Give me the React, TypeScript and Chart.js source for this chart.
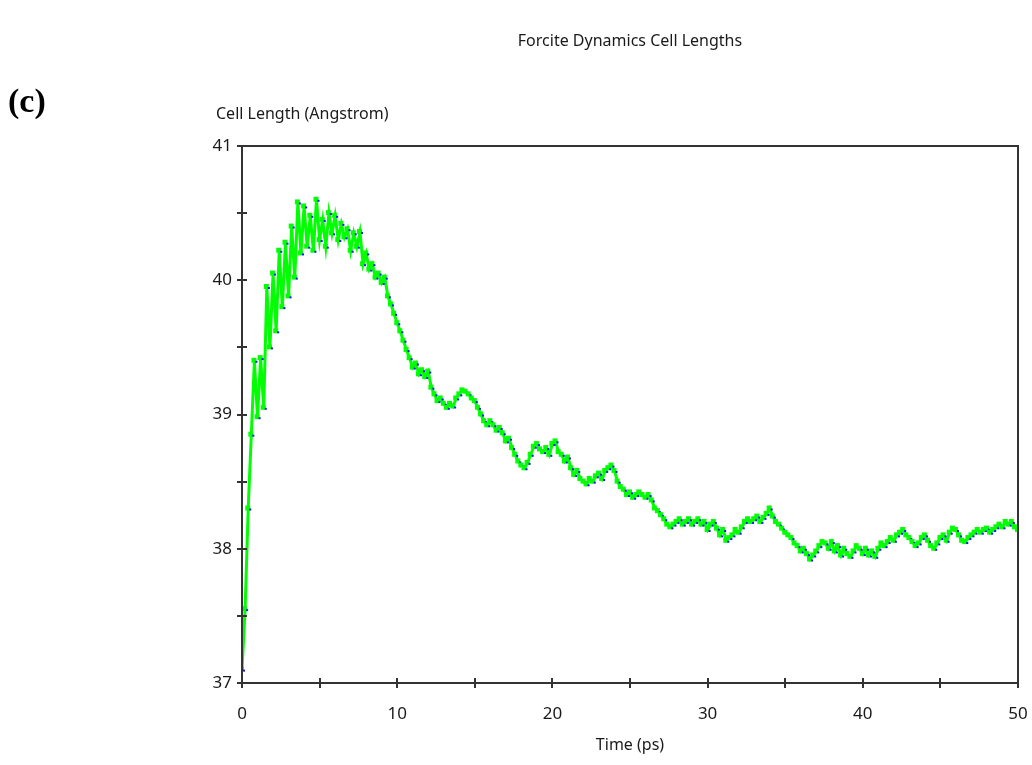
import React, { useEffect, useRef } from "react";
import { Chart, registerables } from "chart.js";

Chart.register(...registerables);

const chartTitle = "Forcite Dynamics Cell Lengths";
const panelLabel = "(c)";
const yAxisTitle = "Cell Length (Angstrom)";
const xAxisTitle = "Time (ps)";

const timeStep = 0.2; // ps between samples
const xMin = 0;
const xMax = 50;
const xTickStep = 5;
const xLabelStep = 10;
const yMin = 37;
const yMax = 41;
const yTickStep = 0.5;
const yLabelStep = 1;

// Cell length (Angstrom), one value every 0.2 ps from 0 to 50 ps
const cellLength = [
  37.10, 37.55, 38.30, 38.85, 39.40, 38.98, 39.42, 39.05, 39.95, 39.50,
  40.05, 39.62, 40.22, 39.80, 40.28, 39.88, 40.40, 40.02, 40.58, 40.20,
  40.55, 40.25, 40.48, 40.22, 40.60, 40.30, 40.45, 40.25, 40.50, 40.35,
  40.48, 40.30, 40.42, 40.32, 40.38, 40.22, 40.35, 40.25, 40.36, 40.12,
  40.20, 40.08, 40.12, 40.02, 40.05, 39.98, 40.02, 39.88, 39.82, 39.75,
  39.68, 39.62, 39.55, 39.48, 39.42, 39.35, 39.38, 39.30, 39.33, 39.28,
  39.32, 39.20, 39.15, 39.10, 39.12, 39.08, 39.05, 39.08, 39.06, 39.12,
  39.15, 39.18, 39.17, 39.15, 39.12, 39.10, 39.05, 39.00, 38.95, 38.92,
  38.95, 38.92, 38.88, 38.90, 38.86, 38.80, 38.82, 38.75, 38.70, 38.65,
  38.62, 38.60, 38.64, 38.70, 38.76, 38.78, 38.74, 38.72, 38.75, 38.70,
  38.78, 38.80, 38.72, 38.70, 38.65, 38.68, 38.60, 38.55, 38.58, 38.52,
  38.50, 38.48, 38.52, 38.50, 38.54, 38.56, 38.52, 38.58, 38.60, 38.62,
  38.58, 38.50, 38.46, 38.44, 38.40, 38.42, 38.38, 38.40, 38.42, 38.40,
  38.38, 38.40, 38.36, 38.30, 38.28, 38.25, 38.22, 38.18, 38.16, 38.18,
  38.20, 38.22, 38.18, 38.20, 38.22, 38.18, 38.20, 38.22, 38.18, 38.20,
  38.14, 38.18, 38.20, 38.15, 38.10, 38.14, 38.06, 38.08, 38.10, 38.14,
  38.12, 38.16, 38.20, 38.22, 38.20, 38.22, 38.24, 38.20, 38.23, 38.26,
  38.30, 38.24, 38.20, 38.18, 38.15, 38.12, 38.10, 38.08, 38.04, 38.02,
  37.98, 38.00, 37.96, 37.92, 37.95, 37.98, 38.02, 38.05, 38.04, 38.00,
  38.05, 37.98, 38.02, 37.95, 38.00, 37.96, 37.94, 37.98, 38.02, 38.00,
  37.96, 38.00, 37.95, 37.98, 37.94, 38.00, 38.04, 38.02, 38.05, 38.08,
  38.06, 38.10, 38.12, 38.14, 38.10, 38.08, 38.05, 38.02, 38.04, 38.08,
  38.10, 38.06, 38.02, 38.00, 38.04, 38.08, 38.10, 38.06, 38.12, 38.15,
  38.14, 38.10, 38.06, 38.05, 38.08, 38.10, 38.12, 38.14, 38.12, 38.14,
  38.15, 38.12, 38.14, 38.16, 38.18, 38.16, 38.20, 38.18, 38.20, 38.16,
  38.14,
];

const FONT = "'Noto Sans', sans-serif";
const TEXT_COLOR = "#1a1a1a";
const AXIS_COLOR = "#333333";

function makeMarker(): HTMLCanvasElement {
  const c = document.createElement("canvas");
  c.width = 8;
  c.height = 8;
  const g = c.getContext("2d")!;
  g.fillStyle = "#00ff00";
  g.fillRect(1, 1, 5, 5);
  g.fillStyle = "#1414ff";
  g.fillRect(5, 4, 2, 2);
  return c;
}

const framePlugin = {
  id: "frameTicks",
  afterDatasetsDraw(chart: any) {
    const { ctx, chartArea, scales } = chart;
    const { left, right, top, bottom } = chartArea;
    ctx.save();
    ctx.strokeStyle = AXIS_COLOR;
    ctx.lineWidth = 2;
    ctx.beginPath();
    ctx.rect(left, top, right - left, bottom - top);
    ctx.stroke();
    ctx.beginPath();
    for (let v = xMin; v <= xMax + 1e-9; v += xTickStep) {
      const x = Math.round(scales.x.getPixelForValue(v));
      ctx.moveTo(x, bottom - 5);
      ctx.lineTo(x, bottom + 5);
    }
    for (let v = yMin; v <= yMax + 1e-9; v += yTickStep) {
      const y = Math.round(scales.y.getPixelForValue(v));
      ctx.moveTo(left - 5, y);
      ctx.lineTo(left + 5, y);
    }
    ctx.stroke();
    ctx.restore();
  },
};

export default function App() {
  const ref = useRef<HTMLCanvasElement | null>(null);

  useEffect(() => {
    if (!ref.current) return;
    const points = cellLength.map((v, i) => ({ x: +(i * timeStep).toFixed(2), y: v }));
    const marker = makeMarker();
    const chart = new Chart(ref.current, {
      type: "line",
      data: {
        datasets: [
          {
            label: yAxisTitle,
            data: points,
            borderColor: "#00ff00",
            borderWidth: 3,
            pointStyle: marker as any,
            pointRadius: 4,
            pointBackgroundColor: "#1414ff",
            pointBorderWidth: 0,
            tension: 0,
            fill: false,
          },
        ],
      },
      options: {
        responsive: false,
        animation: false,
        events: [],
        layout: { padding: { left: 0, right: 14, top: 146, bottom: 0 } },
        plugins: {
          legend: { display: false },
          tooltip: { enabled: false },
          title: { display: false },
        },
        scales: {
          x: {
            type: "linear",
            min: xMin,
            max: xMax,
            grid: { display: false, drawTicks: true, tickLength: 21 },
            border: { display: false },
            ticks: {
              stepSize: xTickStep,
              autoSkip: false,
              maxRotation: 0,
              color: TEXT_COLOR,
              padding: 0,
              font: { family: FONT, size: 17 },
              callback: (v: any) => (Number(v) % xLabelStep === 0 ? String(v) : ""),
            },
            title: {
              display: true,
              text: xAxisTitle,
              color: TEXT_COLOR,
              font: { family: FONT, size: 16 },
              padding: { top: 0, bottom: 10 },
            },
            afterFit: (s: any) => {
              s.height = 82;
            },
          },
          y: {
            min: yMin,
            max: yMax,
            grid: { display: false, drawTicks: false },
            border: { display: false },
            ticks: {
              stepSize: yTickStep,
              autoSkip: false,
              color: TEXT_COLOR,
              padding: 10,
              font: { family: FONT, size: 17 },
              callback: (v: any) => (Number(v) % yLabelStep === 0 ? String(v) : ""),
            },
            afterFit: (s: any) => {
              s.width = 242;
            },
          },
        },
      },
      plugins: [framePlugin],
    });
    return () => chart.destroy();
  }, []);

  return (
    <div style={{ position: "fixed", left: 0, top: 0, width: 1032, height: 765, background: "#fff" }}>
      <canvas ref={ref} width={1032} height={765} style={{ position: "absolute", left: 0, top: 0 }} />
      <div
        style={{
          position: "absolute",
          left: 430,
          width: 400,
          top: 29,
          textAlign: "center",
          fontFamily: FONT,
          fontSize: 16,
          lineHeight: "22px",
          color: TEXT_COLOR,
          whiteSpace: "nowrap",
        }}
      >
        {chartTitle}
      </div>
      <div
        style={{
          position: "absolute",
          left: 8,
          top: 83,
          fontFamily: "'Liberation Serif', serif",
          fontWeight: "bold",
          fontSize: 34,
          lineHeight: "36px",
          color: "#000",
        }}
      >
        {panelLabel}
      </div>
      <div
        style={{
          position: "absolute",
          left: 216,
          top: 102,
          fontFamily: FONT,
          fontSize: 16,
          lineHeight: "22px",
          color: TEXT_COLOR,
          whiteSpace: "nowrap",
        }}
      >
        {yAxisTitle}
      </div>
    </div>
  );
}
